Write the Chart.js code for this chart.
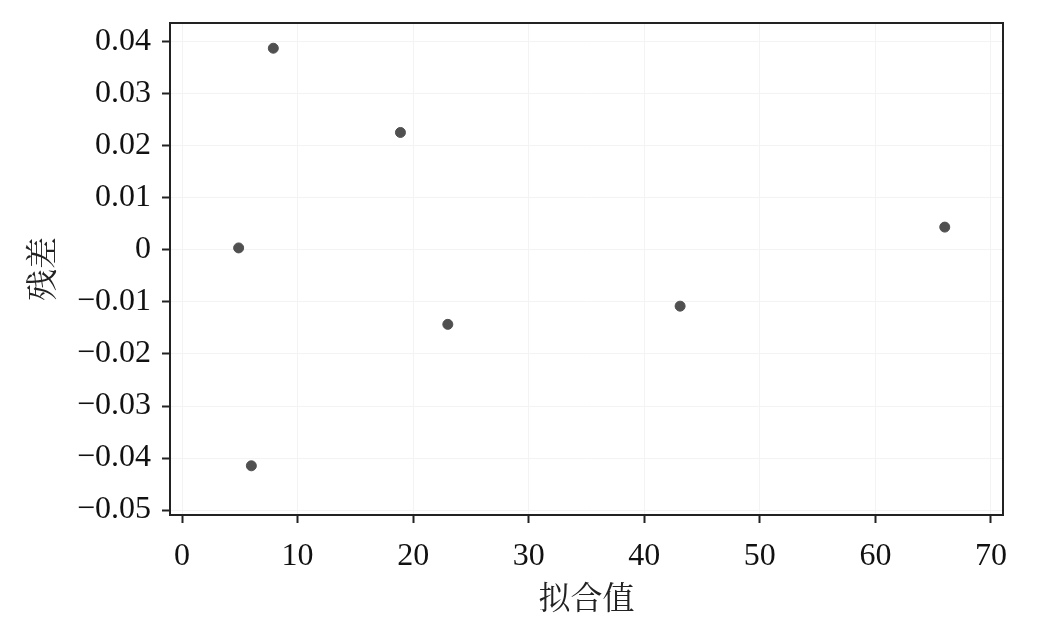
<!DOCTYPE html>
<html>
<head>
<meta charset="utf-8">
<script src="https://cdn.jsdelivr.net/npm/chart.js@4.4.0/dist/chart.umd.min.js"></script>
<style>
  html, body { margin: 0; padding: 0; background: #fff; }
  #wrap { width: 1058px; height: 634px; }
</style>
</head>
<body>
<div id="wrap"><canvas id="c"></canvas></div>
<script>
// fitted values and residuals
const fitted = [4.9, 6.0, 7.9, 18.9, 23.0, 43.1, 66.0];
const residuals = [0.0004, -0.0415, 0.0388, 0.0226, -0.0143, -0.0108, 0.0044];
const xTicks = [0, 10, 20, 30, 40, 50, 60, 70];
const yTicks = [-0.05, -0.04, -0.03, -0.02, -0.01, 0, 0.01, 0.02, 0.03, 0.04];

const serif = "'Liberation Serif', 'Times New Roman', serif";
const cjk = "'Noto Serif CJK SC', 'Noto Sans CJK SC', serif";

const points = fitted.map((x, i) => ({ x: x, y: residuals[i] }));

// box around the plot area
const frame = {
  id: 'frame',
  afterDraw(chart) {
    const a = chart.chartArea, ctx = chart.ctx;
    ctx.save();
    ctx.strokeStyle = '#222';
    ctx.lineWidth = 2;
    ctx.strokeRect(a.left, a.top, a.right - a.left, a.bottom - a.top);
    ctx.restore();
  }
};

function fmtY(v) {
  if (Math.abs(v) < 1e-9) return '0';
  const s = Math.abs(v).toFixed(2);
  return (v < 0 ? '\u2212' : '') + s;
}

new Chart(document.getElementById('c'), {
  type: 'scatter',
  data: {
    datasets: [{
      data: points,
      backgroundColor: '#505050',
      borderColor: '#505050',
      pointRadius: 5,
      pointHoverRadius: 5
    }]
  },
  options: {
    responsive: true,
    maintainAspectRatio: false,
    animation: false,
    layout: { padding: { top: 23, right: 55, left: 0, bottom: 0 } },
    plugins: { legend: { display: false }, tooltip: { enabled: false } },
    scales: {
      x: {
        type: 'linear',
        min: -1.04,
        max: 71.04,
        afterBuildTicks(s) { s.ticks = xTicks.map(v => ({ value: v })); },
        afterFit(s) { s.height = 119; s.paddingLeft = 0; s.paddingRight = 0; },
        border: { display: false },
        grid: { color: '#f3f3f3', tickColor: '#222', tickLength: 8, lineWidth: 1, tickWidth: 2 },
        ticks: { color: '#111', font: { family: serif, size: 32 }, padding: 14, maxRotation: 0 },
        title: { display: true, text: '拟合值', color: '#222', font: { family: cjk, size: 32 }, padding: { top: 0, bottom: 18 } }
      },
      y: {
        type: 'linear',
        min: -0.05096,
        max: 0.04365,
        afterBuildTicks(s) { s.ticks = yTicks.map(v => ({ value: v })); },
        afterFit(s) { s.width = 170; s.paddingTop = 0; s.paddingBottom = 0; },
        border: { display: false },
        grid: { color: '#f3f3f3', tickColor: '#222', tickLength: 8, lineWidth: 1, tickWidth: 2 },
        ticks: { color: '#111', font: { family: serif, size: 32 }, padding: 11, callback: v => fmtY(v) },
        title: { display: true, text: '残差', color: '#222', font: { family: cjk, size: 32 }, padding: { top: 22, bottom: 0 } }
      }
    }
  },
  plugins: [frame]
});
</script>
</body>
</html>
